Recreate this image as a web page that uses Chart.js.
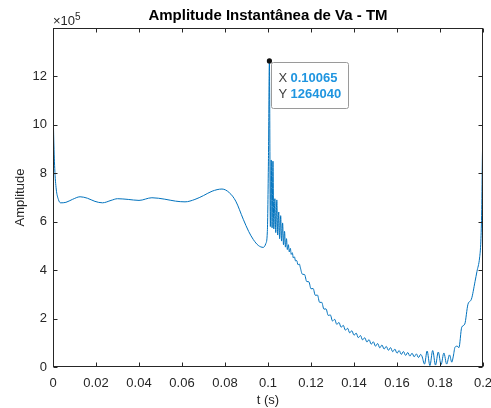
<!DOCTYPE html>
<html>
<head>
<meta charset="utf-8">
<script src="https://cdn.jsdelivr.net/npm/chart.js@4"></script>
<style>
  html, body { margin: 0; padding: 0; background: #fff; }
  #wrap { width: 491px; height: 408px; }
</style>
</head>
<body>
<div id="wrap"><canvas id="vaChart" width="491" height="408"></canvas></div>
<script>
// time (s) and amplitude (x 10^5)
const tSec = [
  0, 0.0003, 0.0008, 0.0015, 0.0025, 0.0035, 0.006, 0.009, 0.0126, 0.016, 0.0195, 0.023, 0.027, 0.030, 0.035,
  0.040, 0.046, 0.052, 0.057, 0.0614, 0.066, 0.070, 0.074, 0.0786, 0.082, 0.085, 0.0885, 0.091, 0.0932, 0.0955,
  0.0978, 0.0990, 0.0997, 0.1002, 0.10065,
  0.1011, 0.1015, 0.1019, 0.1023, 0.1027, 0.1032, 0.1036, 0.1041, 0.1045, 0.1050, 0.1054, 0.1059, 0.1063, 0.1068,
  0.1072, 0.1077, 0.1081, 0.1086, 0.1090, 0.1095, 0.1099, 0.1104, 0.1108, 0.1113, 0.1118, 0.1123, 0.1128, 0.1133,
  0.1140, 0.1146,
  0.115, 0.116, 0.117, 0.118, 0.119, 0.120, 0.121, 0.122, 0.123, 0.124, 0.125, 0.126, 0.127, 0.128, 0.129, 0.130,
  0.131, 0.132, 0.133, 0.134, 0.135, 0.136, 0.137, 0.138, 0.139, 0.140, 0.141, 0.142, 0.143, 0.144, 0.145, 0.146,
  0.147, 0.148, 0.149, 0.150, 0.151, 0.152, 0.153, 0.154, 0.155, 0.156, 0.157, 0.158, 0.159, 0.160, 0.161, 0.162,
  0.163, 0.164, 0.165, 0.166, 0.167, 0.168, 0.169, 0.170, 0.171,
  0.1716, 0.1728, 0.1740, 0.1753, 0.1766, 0.1779, 0.1792, 0.1805, 0.1818, 0.1831, 0.1844, 0.1855, 0.1862,
  0.1870, 0.1880, 0.1888, 0.1901, 0.1915, 0.1930, 0.1946, 0.1963, 0.1972, 0.1984, 0.1990, 0.1994, 0.1997, 0.2
];
const vaAmp = [
  11.0, 9.6, 8.2, 7.35, 6.92, 6.78, 6.80, 6.92, 7.03, 6.97, 6.84, 6.78, 6.88, 6.95, 6.92,
  6.88, 6.99, 6.93, 6.85, 6.82, 6.92, 7.08, 7.26, 7.35, 7.2, 6.85, 6.1, 5.6, 5.26, 5.02,
  4.94, 5.1, 5.6, 8.5, 12.6404,
  5.8, 8.55, 5.75, 8.5, 5.7, 6.95, 5.55, 6.9, 5.45, 6.4, 5.3, 6.25, 5.2, 5.95,
  5.05, 5.6, 4.95, 5.3, 4.85, 5.05, 4.75, 4.9, 4.65, 4.72, 4.5, 4.55, 4.38, 4.4,
  4.22, 4.25,
  4.12, 3.83, 3.82, 3.53, 3.52, 3.23, 3.24, 2.96, 2.97, 2.67, 2.67, 2.39, 2.40, 2.13, 2.15, 1.90,
  1.97, 1.76, 1.84, 1.64, 1.72, 1.52, 1.60, 1.41, 1.50, 1.31, 1.40, 1.21, 1.30, 1.12, 1.21, 1.03,
  1.13, 0.94, 1.04, 0.86, 0.97, 0.79, 0.91, 0.74, 0.85, 0.69, 0.80, 0.63, 0.74, 0.57, 0.68, 0.52,
  0.64, 0.48, 0.60, 0.45, 0.57, 0.42, 0.54, 0.39, 0.52,
  0.45, 0.12, 0.66, 0.06, 0.68, 0.08, 0.62, 0.10, 0.58, 0.12, 0.50, 0.20, 0.45,
  0.82, 0.86, 0.80, 1.64, 1.77, 2.59, 2.8, 3.53, 3.95, 4.5, 5.2, 6.5, 8.6, 9.8
];
const xTicks = [0, 0.02, 0.04, 0.06, 0.08, 0.1, 0.12, 0.14, 0.16, 0.18, 0.2];
const yTicks = [0, 2, 4, 6, 8, 10, 12];
const tipX = 0.10065;
const tipY = 1264040;

const axisColor = '#262626';
const fontFamily = '"Liberation Sans", Arial, Helvetica, sans-serif';

const points = tSec.map((t, i) => ({ x: t, y: vaAmp[i] }));

const matlabDecor = {
  id: 'matlabDecor',
  afterDraw(chart) {
    const ctx = chart.ctx;
    const a = chart.chartArea;
    const xs = chart.scales.x, ys = chart.scales.y;
    const L = Math.round(a.left) + 0.5, R = Math.round(a.right) - 0.5;
    const T = Math.round(a.top) + 0.5, B = Math.round(a.bottom) - 0.5;
    ctx.save();
    // axes box
    ctx.strokeStyle = axisColor;
    ctx.lineWidth = 1;
    ctx.strokeRect(L, T, R - L, B - T);
    // inward ticks on all sides
    ctx.beginPath();
    xTicks.forEach(v => {
      const px = Math.round(xs.getPixelForValue(v)) + 0.5;
      ctx.moveTo(px, B); ctx.lineTo(px, B - 4);
      ctx.moveTo(px, T); ctx.lineTo(px, T + 4);
    });
    yTicks.forEach(v => {
      const py = Math.round(ys.getPixelForValue(v)) + 0.5;
      ctx.moveTo(L, py); ctx.lineTo(L + 4, py);
      ctx.moveTo(R, py); ctx.lineTo(R - 4, py);
    });
    ctx.stroke();

    // title
    ctx.fillStyle = '#000';
    ctx.font = 'bold 15px ' + fontFamily;
    ctx.textAlign = 'center';
    ctx.textBaseline = 'middle';
    ctx.fillText('Amplitude Instantânea de Va - TM', (a.left + a.right) / 2, 16);

    // exponent label
    ctx.fillStyle = axisColor;
    ctx.textAlign = 'left';
    ctx.textBaseline = 'alphabetic';
    ctx.font = '13px ' + fontFamily;
    ctx.fillText('\u00d710', a.left, 25);
    const w = ctx.measureText('\u00d710').width;
    ctx.font = '10px ' + fontFamily;
    ctx.fillText('5', a.left + w, 19.5);

    // data tip
    const px = xs.getPixelForValue(tipX);
    const py = ys.getPixelForValue(tipY / 1e5);
    const bx = Math.round(px) + 2.5, by = Math.round(py) + 1.5;
    ctx.fillStyle = 'rgba(255,255,255,0.95)';
    ctx.strokeStyle = '#9a9a9a';
    ctx.beginPath();
    ctx.roundRect(bx, by, 77, 46, 2);
    ctx.fill();
    ctx.stroke();
    ctx.textBaseline = 'middle';
    ctx.font = '13px ' + fontFamily;
    ctx.fillStyle = '#404040';
    ctx.fillText('X', bx + 7, by + 15.5);
    ctx.fillText('Y', bx + 7, by + 31.5);
    ctx.font = 'bold 13px ' + fontFamily;
    ctx.fillStyle = '#1f95e0';
    ctx.fillText(String(tipX), bx + 19, by + 15.5);
    ctx.fillText(String(tipY), bx + 19, by + 31.5);
    ctx.beginPath();
    ctx.arc(px, py, 2.6, 0, Math.PI * 2);
    ctx.fillStyle = '#111';
    ctx.fill();
    ctx.restore();
  }
};

new Chart(document.getElementById('vaChart'), {
  type: 'line',
  data: {
    datasets: [{
      data: points,
      borderColor: '#0072BD',
      borderWidth: 1,
      pointRadius: 0,
      cubicInterpolationMode: 'monotone',
      fill: false
    }]
  },
  options: {
    responsive: false,
    animation: false,
    layout: { padding: { top: 28, right: 8, left: 0, bottom: 0 } },
    plugins: { legend: { display: false }, tooltip: { enabled: false }, title: { display: false } },
    scales: {
      x: {
        type: 'linear', min: 0, max: 0.2,
        afterBuildTicks: s => { s.ticks = xTicks.map(v => ({ value: v })); },
        ticks: {
          callback: v => String(+v.toFixed(2)),
          font: { family: fontFamily, size: 13 }, color: axisColor,
          padding: 9, maxRotation: 0, autoSkip: false
        },
        grid: { display: false, drawTicks: false },
        border: { display: false },
        title: { display: true, text: 't (s)', font: { family: fontFamily, size: 13 }, color: axisColor, padding: { top: 0, bottom: 0 } },
        afterFit: s => { s.height = 41; s.paddingLeft = 0; s.paddingRight = 0; }
      },
      y: {
        type: 'linear', min: 0, max: 14,
        afterBuildTicks: s => { s.ticks = yTicks.map(v => ({ value: v })); },
        ticks: { font: { family: fontFamily, size: 13 }, color: axisColor, padding: 6 },
        grid: { display: false, drawTicks: false },
        border: { display: false },
        title: { display: true, text: 'Amplitude', font: { family: fontFamily, size: 13 }, color: axisColor, padding: { top: 13, bottom: 0 } },
        afterFit: s => { s.width = 53; s.paddingTop = 0; s.paddingBottom = 0; }
      }
    }
  },
  plugins: [matlabDecor]
});
</script>
</body>
</html>
